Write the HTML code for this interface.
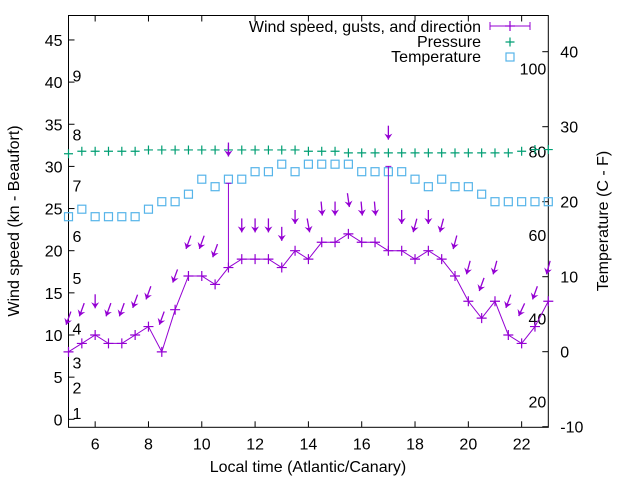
<!DOCTYPE html>
<html><head><meta charset="utf-8"><style>
html,body{margin:0;padding:0;background:#fff}
svg{display:block;font-family:"Liberation Sans",sans-serif}
</style></head><body>
<svg id="c" width="640" height="480" viewBox="0 0 640 480"></svg>
<script>
const hours=[5,5.5,6,6.5,7,7.5,8,8.5,9,9.5,10,10.5,11,11.5,12,12.5,13,13.5,14,14.5,15,15.5,16,16.5,17,17.5,18,18.5,19,19.5,20,20.5,21,21.5,22,22.5,23];
const speed=[8,9,10,9,9,10,11,8,13,17,17,16,18,19,19,19,18,20,19,21,21,22,21,21,20,20,19,20,19,17,14,12,14,10,9,11,14];
const gust=[8,9,10,9,9,10,11,8,13,17,17,16,28,19,19,19,18,20,19,21,21,22,21,21,30,20,19,20,19,17,14,12,14,10,9,11,14];
const dirFrom=[20,20,0,20,20,20,20,20,20,20,20,20,0,0,0,0,0,0,350,355,0,352,355,355,0,0,15,0,15,15,15,20,15,20,25,20,15];
const pressure=[31.5,31.8,31.8,31.8,31.8,31.8,31.95,31.95,31.95,31.95,31.95,31.95,31.95,31.95,31.95,31.95,31.95,31.95,31.8,31.8,31.8,31.6,31.6,31.6,31.6,31.6,31.6,31.6,31.6,31.6,31.6,31.6,31.6,31.6,31.8,32.0,32.0];
const tempC=[18,19,18,18,18,18,19,20,20,21,23,22,23,23,24,24,25,24,25,25,25,25,24,24,24,24,23,22,23,22,22,21,20,20,20,20,20];
const xTicks=[6,8,10,12,14,16,18,20,22];
const yTicks=[0,5,10,15,20,25,30,35,40,45];
const y2Ticks=[-10,0,10,20,30,40];
const fTicks=[20,40,60,80,100];
const bftLevels=[1,4,7,11,17,22,28,34,41];
const bftLabels=["1","2","3","4","5","6","7","8","9"];

const L=68.5,R=548.3,T=15.5,B=427.3;
const X=h=>L+(h-5)*(R-L)/18;
const Y=v=>419.3-v*8.43;
const Y2=c=>351.7-c*7.5;
const NS="http://www.w3.org/2000/svg";
const svg=document.getElementById('c');
function el(t,a,p){const e=document.createElementNS(NS,t);for(const k in a)e.setAttribute(k,a[k]);(p||svg).appendChild(e);return e;}
function txt(s,a,p){const e=el('text',a,p);e.textContent=s;return e;}
const P='#9400d3',G='#009e73',C='#56b4e9';
const FS=16;

const fr=el('rect',{x:L,y:T,width:R-L,height:B-T,fill:'none',stroke:'#000','stroke-width':1});


const gx=el('g',{});
xTicks.forEach(h=>{const x=X(h);
 el('line',{x1:x,x2:x,y1:B,y2:B-6,stroke:'#000'},gx);
 el('line',{x1:x,x2:x,y1:T,y2:T+6,stroke:'#000'},gx);
 const t=txt(String(h),{x:x,y:B+22,'font-size':FS,'text-anchor':'middle',fill:'#000'},gx);
 });
const gy=el('g',{});
yTicks.forEach(v=>{const y=Y(v);
 el('line',{x1:L,x2:L+6,y1:y,y2:y,stroke:'#000'},gy);
 const t=txt(String(v),{x:L-6,y:y+6,'font-size':FS,'text-anchor':'end',fill:'#000'},gy);
 });
const gy2=el('g',{});
y2Ticks.forEach(v=>{const y=Y2(v);
 el('line',{x1:R,x2:R-6,y1:y,y2:y,stroke:'#000'},gy2);
 const t=txt(String(v),{x:R+12,y:y+6,'font-size':FS,'text-anchor':'start',fill:'#000'},gy2);
 });
fTicks.forEach(f=>{const y=Y2((f-32)*5/9);
 const t=txt(String(f),{x:R-2,y:y+6,'font-size':FS,'text-anchor':'end',fill:'#000'});
 });
bftLevels.forEach((k,i)=>{const t=txt(bftLabels[i],{x:L+4,y:Y(k)+8,'font-size':FS,fill:'#000'});
 });

let t=txt('Wind speed (kn - Beaufort)',{x:0,y:0,'font-size':FS,'text-anchor':'middle',transform:'translate(19,221) rotate(-90)'});

t=txt('Temperature (C - F)',{x:0,y:0,'font-size':FS,'text-anchor':'middle',transform:'translate(608,221) rotate(-90)'});

t=txt('Local time (Atlantic/Canary)',{x:308,y:472,'font-size':FS,'text-anchor':'middle'});


function plus(x,y,c,s,p){el('path',{d:`M${x-s} ${y}H${x+s}M${x} ${y-s}V${y+s}`,stroke:c,'stroke-width':1.2,fill:'none'},p);}

const gp=el('g',{});
hours.forEach((h,i)=>plus(X(h),Y(pressure[i]),G,4.5,gp));
const gt=el('g',{});
hours.forEach((h,i)=>el('rect',{x:X(h)-4,y:Y2(tempC[i])-4,width:8,height:8,fill:'none',stroke:C,'stroke-width':1.2},gt));
const gw=el('g',{});
el('polyline',{points:hours.map((h,i)=>X(h)+','+Y(speed[i])).join(' '),fill:'none',stroke:P,'stroke-width':1},gw);
hours.forEach((h,i)=>{plus(X(h),Y(speed[i]),P,5,gw);
 if(gust[i]>speed[i]){const x=X(h);
  el('path',{d:`M${x} ${Y(speed[i])}V${Y(gust[i])}M${x-3} ${Y(gust[i])}H${x+3}`,stroke:P,'stroke-width':1,fill:'none'},gw);}});
const ga=el('g',{});
hours.forEach((h,i)=>{const cx=X(h),cy=Y(Math.max(speed[i],gust[i])+4);
 const a=dirFrom[i]*Math.PI/180,len=14;
 const ux=-Math.sin(a),uy=Math.cos(a);
 const x1=cx-ux*len/2,y1=cy-uy*len/2,x2=cx+ux*len/2,y2=cy+uy*len/2;
 el('line',{x1:x1,y1:y1,x2:x2,y2:y2,stroke:P,'stroke-width':1.3},ga);
 const px=-uy,py=ux,hl=6,hw=4;
 const bx=x2-ux*hl,by=y2-uy*hl;
 el('polygon',{points:`${x2},${y2} ${bx+px*hw},${by+py*hw} ${bx+ux*2},${by+uy*2} ${bx-px*hw},${by-py*hw}`,fill:P},ga);});

const lg=el('g',{});
const le=[['Wind speed, gusts, and direction',26],['Pressure',41],['Temperature',56]];
le.forEach(([s,y])=>{const tt=txt(s,{x:481,y:y+6,'font-size':FS,'text-anchor':'end'},lg);
 });
el('path',{d:'M490 26H530M490 22V30M530 22V30',stroke:P,fill:'none'},lg);
plus(510,26,P,5,lg);
plus(510,42,G,4.5,lg);
el('rect',{x:506,y:53,width:8,height:8,fill:'none',stroke:C,'stroke-width':1.2},lg);
</script>
</body></html>
